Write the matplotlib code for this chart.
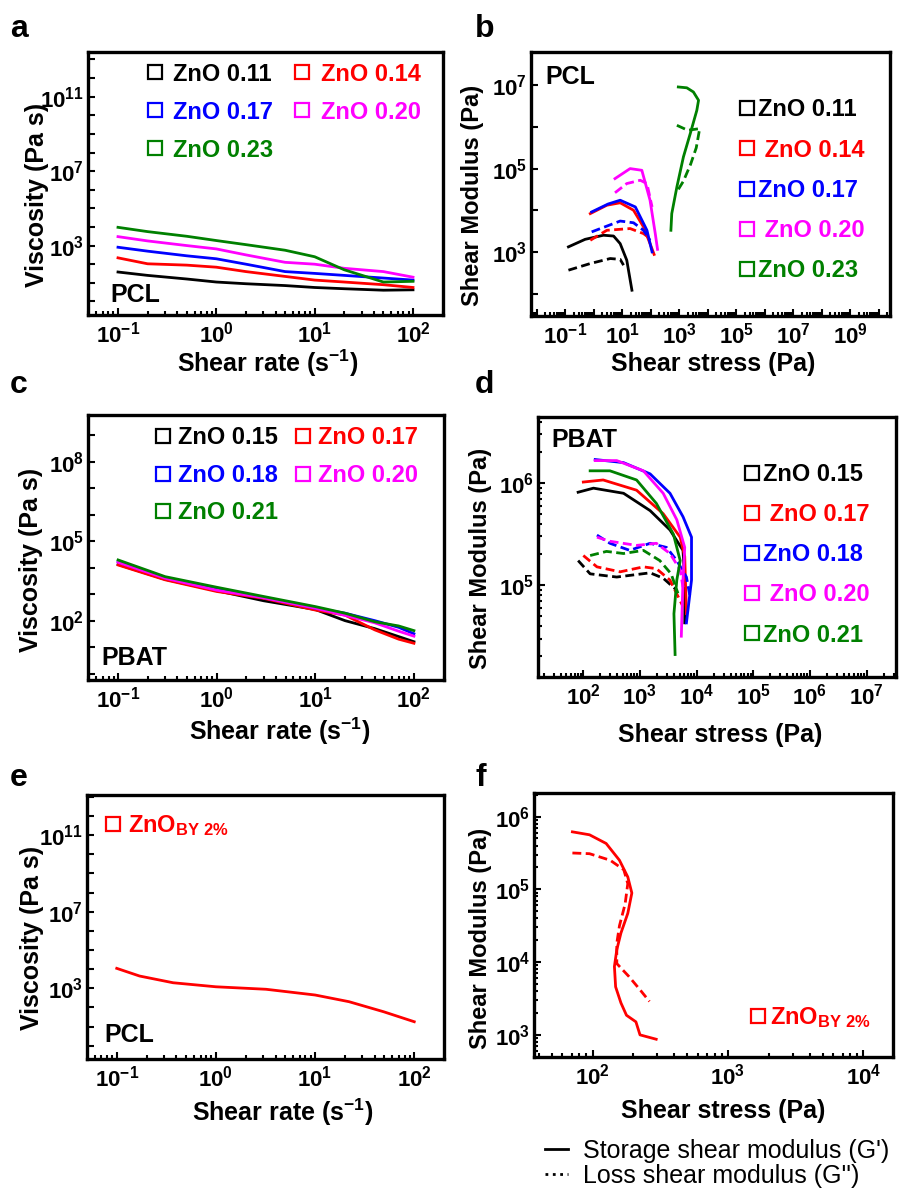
import numpy as np
import matplotlib
matplotlib.use('Agg')
import matplotlib.pyplot as plt
from matplotlib.lines import Line2D
from matplotlib.ticker import LogLocator, FuncFormatter, NullFormatter, NullLocator

plt.rcParams['font.family'] = ['Liberation Sans', 'DejaVu Sans']
plt.rcParams['font.weight'] = 'bold'
plt.rcParams['mathtext.fontset'] = 'custom'
plt.rcParams['mathtext.rm'] = 'Liberation Sans:bold'
plt.rcParams['mathtext.bf'] = 'Liberation Sans:bold'
plt.rcParams['mathtext.it'] = 'Liberation Sans:bold'
plt.rcParams['mathtext.default'] = 'rm'

COLORS = ['black', '#ff0000', '#0000ff', '#ff00ff', '#008000']

# ---------------- panel a: PCL viscosity ----------------
labels_a = ['ZnO 0.11', 'ZnO 0.14', 'ZnO 0.17', 'ZnO 0.20', 'ZnO 0.23']
rate_a = [0.1, 0.2, 0.5, 1, 2, 5, 10, 20, 50, 100]
visc_a_011 = [38, 25, 16, 11, 8.9, 7.1, 5.6, 4.8, 4.0, 4.2]
visc_a_014 = [219, 105, 89, 69, 40, 22, 14, 11, 7.9, 5.6]
visc_a_017 = [813, 501, 282, 195, 100, 40, 32, 25, 18, 14]
visc_a_020 = [3020, 1778, 1000, 661, 316, 126, 100, 60, 40, 20]
visc_a_023 = [9550, 5623, 3162, 1862, 1122, 562, 251, 50, 11, 12]

# ---------------- panel b: PCL modulus vs stress ----------------
labels_b = ['ZnO 0.11', ' ZnO 0.14', 'ZnO 0.17', ' ZnO 0.20', 'ZnO 0.23']
b_011_Gp_x = [0.13, 0.5, 2.2, 5, 8.5, 14.5, 22]
b_011_Gp_y = [1320, 2000, 2510, 2400, 1580, 630, 120]
b_011_Gpp_x = [0.13, 0.76, 3.8, 8.5, 11.2]
b_011_Gpp_y = [363, 525, 692, 661, 479]
b_014_Gp_x = [0.76, 2.9, 8.5, 25, 56, 95, 132]
b_014_Gp_y = [8300, 13200, 15100, 10000, 3980, 1580, 870]
b_014_Gpp_x = [0.76, 2.9, 19, 56, 95]
b_014_Gpp_y = [1900, 3300, 3630, 2750, 2090]
b_017_Gp_x = [0.85, 3.2, 8.5, 29, 74, 112]
b_017_Gp_y = [9100, 14100, 17400, 12000, 3300, 1000]
b_017_Gpp_x = [0.85, 8.5, 25, 56, 95]
b_017_Gpp_y = [3020, 5500, 5000, 3300, 1900]
b_020_Gp_x = [5.6, 19, 49, 95, 145, 174]
b_020_Gp_y = [57500, 100000, 91000, 17400, 2750, 1150]
b_020_Gpp_x = [5.6, 14.5, 43, 74, 112]
b_020_Gpp_y = [26300, 43700, 52500, 43700, 12000]
b_023_Gp_x = [513, 550, 832, 1410, 2450, 4170, 4790, 3160, 1860, 933]
b_023_Gp_y = [3300, 8300, 36300, 190500, 692000, 2510000, 4370000, 6920000, 8710000, 9120000]
b_023_Gpp_x = [832, 2000, 5250, 3980, 2510, 1410, 933]
b_023_Gpp_y = [1096000, 832000, 912000, 316000, 126000, 50000, 31600]

# ---------------- panel c: PBAT viscosity ----------------
labels_c = ['ZnO 0.15', 'ZnO 0.17', 'ZnO 0.18', 'ZnO 0.20', 'ZnO 0.21']
rate_c = [0.1, 0.3, 1, 3, 10, 20, 40, 70, 100]
visc_c_015 = [13200, 3630, 1350, 562, 263, 100, 50, 25, 16]
visc_c_017 = [12600, 3470, 1260, 692, 251, 162, 45, 20, 14]
visc_c_018 = [17000, 4170, 1510, 741, 295, 191, 100, 56, 32]
visc_c_020 = [15800, 3980, 1410, 724, 295, 158, 83, 40, 26]
visc_c_021 = [19500, 4570, 1820, 813, 339, 191, 91, 63, 42]

# ---------------- panel d: PBAT modulus vs stress ----------------
labels_d = ['ZnO 0.15', ' ZnO 0.17', 'ZnO 0.18', ' ZnO 0.20', 'ZnO 0.21']
d_015_Gp_x = [81, 151, 513, 1510, 3390, 5750, 6170, 6170]
d_015_Gp_y = [813000, 891000, 794000, 537000, 347000, 219000, 112000, 42700]
d_017_Gp_x = [100, 224, 871, 2570, 5130, 6170, 6610]
d_017_Gp_y = [1023000, 1072000, 851000, 501000, 295000, 191000, 52500]
d_018_Gp_x = [162, 513, 1510, 3390, 5750, 8130, 8130, 6610]
d_018_Gp_y = [1700000, 1585000, 1230000, 794000, 468000, 295000, 112000, 42700]
d_020_Gp_x = [162, 389, 1150, 2570, 4470, 6170, 5750, 5370]
d_020_Gp_y = [1660000, 1660000, 1318000, 794000, 437000, 234000, 112000, 31600]
d_021_Gp_x = [132, 295, 871, 1950, 3890, 5130, 4470, 3980, 4170]
d_021_Gp_y = [1318000, 1318000, 1072000, 631000, 316000, 174000, 112000, 52500, 20900]
d_015_Gpp_x = [81, 132, 389, 1510, 2570, 4470]
d_015_Gpp_y = [174000, 129000, 120000, 132000, 117000, 89000]
d_017_Gpp_x = [100, 174, 447, 1150, 1950, 3390, 5750]
d_017_Gpp_y = [195000, 151000, 135000, 151000, 145000, 112000, 61700]
d_018_Gpp_x = [174, 295, 661, 1510, 2950, 4470, 6610, 7590]
d_018_Gpp_y = [309000, 257000, 219000, 257000, 234000, 174000, 120000, 79400]
d_020_Gpp_x = [174, 295, 871, 1950, 3390, 5130, 5750]
d_020_Gpp_y = [295000, 269000, 245000, 257000, 204000, 141000, 95500]
d_021_Gpp_x = [132, 257, 513, 1150, 2240, 3550, 4680]
d_021_Gpp_y = [195000, 214000, 204000, 219000, 174000, 129000, 83200]

# ---------------- panel e: PCL ZnO BY 2% viscosity ----------------
rate_e = [0.1, 0.17, 0.37, 1.0, 3.2, 10, 22, 49, 100]
visc_e = [11000, 4370, 1950, 1200, 891, 447, 200, 60, 18]

# ---------------- panel f: ZnO BY 2% modulus ----------------
f_Gp_x = [71, 95, 126, 158, 182, 195, 182, 162, 151, 145, 148, 162, 178, 209, 224, 295]
f_Gp_y = [617000, 562000, 427000, 251000, 148000, 89100, 46800, 25100, 14800, 8710,
          4570, 2750, 1860, 1510, 1000, 871]
f_Gpp_x = [71, 95, 135, 170, 182, 174, 158, 151, 151, 186, 224, 263]
f_Gpp_y = [316000, 309000, 251000, 186000, 120000, 63100, 31600, 18200, 9550, 6310, 4170, 2880]

label_by = r'ZnO$_{\mathrm{BY\ 2\%}}$'
legend_bottom = ["Storage shear modulus (G')", "Loss shear modulus (G'')"]

# ---------------- figure ----------------
W, H = 900, 1191
fig = plt.figure(figsize=(9, 11.91), dpi=100)

def px_axes(left, top, right, bottom):
    return fig.add_axes([left / W, 1 - bottom / H, (right - left) / W, (bottom - top) / H])

LW = 2.0
DASH = (0, (3.2, 1.6))
TICK_FS = 16
LEG_FS = 17

def fmt(show):
    def f(v, p):
        e = int(round(np.log10(v)))
        return r'$10^{%d}$' % e if e in show else ''
    return FuncFormatter(f)

def style(ax, xlim, ylim, xshow, yshow, xminor=True, yminor=False):
    ax.set_xscale('log')
    ax.set_yscale('log')
    ax.set_xlim(*xlim)
    ax.set_ylim(*ylim)
    ax.xaxis.set_major_locator(LogLocator(base=10, subs=(1.0,), numticks=40))
    ax.yaxis.set_major_locator(LogLocator(base=10, subs=(1.0,), numticks=40))
    ax.xaxis.set_major_formatter(fmt(xshow))
    ax.yaxis.set_major_formatter(fmt(yshow))
    if xminor:
        ax.xaxis.set_minor_locator(LogLocator(base=10, subs=np.arange(2, 10), numticks=40))
    else:
        ax.xaxis.set_minor_locator(NullLocator())
    if yminor:
        ax.yaxis.set_minor_locator(LogLocator(base=10, subs=np.arange(2, 10), numticks=40))
    else:
        ax.yaxis.set_minor_locator(NullLocator())
    ax.xaxis.set_minor_formatter(NullFormatter())
    ax.yaxis.set_minor_formatter(NullFormatter())
    ax.tick_params(which='both', direction='in', top=False, right=False, width=1.5)
    ax.tick_params(which='major', length=5, labelsize=TICK_FS)
    ax.tick_params(which='minor', length=3)
    ax.tick_params(axis='x', pad=5)
    ax.tick_params(axis='y', pad=3)
    for s in ax.spines.values():
        s.set_linewidth(2.4)

def square_handles(colors):
    return [Line2D([], [], ls='none', marker='s', ms=9.5, mfc='none', mec=c, mew=1.6, color=c)
            for c in colors]

def add_legend(ax, labels, colors, anchor, ncol=1, hl=0.7, htp=0.4, ls=0.42, cs=0.9, order=None):
    hs = square_handles(colors)
    if order is not None:
        hs = [hs[i] for i in order]
        labels = [labels[i] for i in order]
        colors = [colors[i] for i in order]
    leg = ax.legend(hs, labels, loc='upper left', bbox_to_anchor=anchor, ncol=ncol,
                    frameon=False, handlelength=hl, handletextpad=htp,
                    labelspacing=ls, columnspacing=cs, borderpad=0, borderaxespad=0,
                    prop={'weight': 'bold', 'size': LEG_FS})
    for t, c in zip(leg.get_texts(), colors):
        t.set_color(c)
    return leg

def labels(ax, xl, yl, xpos, ypos, yfs=18):
    ax.set_xlabel(xl, fontsize=18, fontweight='bold')
    ax.set_ylabel(yl, fontsize=yfs, fontweight='bold')
    ax.xaxis.set_label_coords(*xpos)
    ax.yaxis.set_label_coords(*ypos)
    ax.xaxis.label.set_va('center')
    ax.yaxis.label.set_va('center')

rate_label = r'Shear rate (s$^{-1}$)'

# ---- a ----
axa = px_axes(88, 52, 443, 315)
for vals, c in zip([visc_a_011, visc_a_014, visc_a_017, visc_a_020, visc_a_023], COLORS):
    axa.plot(rate_a, vals, color=c, lw=LW)
style(axa, (10**-1.305, 10**2.305), (10**-0.73, 10**13.4), {-1, 0, 1, 2}, {3, 7, 11})
labels(axa, rate_label, 'Viscosity (Pa s)', (0.507, -0.185), (-0.144, 0.456))
add_legend(axa, labels_a, COLORS, (0.165, 0.96), ncol=2, hl=0.7, htp=0.42, ls=0.64, cs=0.89,
           order=[0, 2, 4, 1, 3])
axa.text(0.062, 0.076, 'PCL', transform=axa.transAxes, fontsize=18, fontweight='bold', va='center')

# ---- b ----
axb = px_axes(531, 52, 890, 316)
b_series = [(b_011_Gp_x, b_011_Gp_y, b_011_Gpp_x, b_011_Gpp_y),
            (b_014_Gp_x, b_014_Gp_y, b_014_Gpp_x, b_014_Gpp_y),
            (b_017_Gp_x, b_017_Gp_y, b_017_Gpp_x, b_017_Gpp_y),
            (b_020_Gp_x, b_020_Gp_y, b_020_Gpp_x, b_020_Gpp_y),
            (b_023_Gp_x, b_023_Gp_y, b_023_Gpp_x, b_023_Gpp_y)]
for (gx, gy, lx, ly), c in zip(b_series, COLORS):
    axb.plot(gx, gy, color=c, lw=LW)
    axb.plot(lx, ly, color=c, lw=LW, ls=DASH)
style(axb, (10**-2.2, 10**10.4), (10**1.46, 10**7.8), {-1, 1, 3, 5, 7, 9}, {3, 5, 7})
labels(axb, 'Shear stress (Pa)', 'Shear Modulus (Pa)', (0.507, -0.18), (-0.163, 0.458), yfs=17)
add_legend(axb, labels_b, COLORS, (0.584, 0.824), hl=0.5, htp=0.24, ls=0.73)
axb.text(0.039, 0.906, 'PCL', transform=axb.transAxes, fontsize=18, fontweight='bold', va='center')

# ---- c ----
axc = px_axes(88, 415, 444, 680)
for vals, c in zip([visc_c_015, visc_c_017, visc_c_018, visc_c_020, visc_c_021], COLORS):
    axc.plot(rate_c, vals, color=c, lw=LW)
style(axc, (10**-1.305, 10**2.305), (10**-0.24, 10**9.76), {-1, 0, 1, 2}, {2, 5, 8})
labels(axc, rate_label, 'Viscosity (Pa s)', (0.539, -0.192), (-0.16, 0.453))
add_legend(axc, labels_c, COLORS, (0.187, 0.958), ncol=2, hl=0.7, htp=0.29, ls=0.62, cs=0.72,
           order=[0, 2, 4, 1, 3])
axc.text(0.038, 0.083, 'PBAT', transform=axc.transAxes, fontsize=18, fontweight='bold', va='center')

# ---- d ----
axd = px_axes(538, 416.7, 896, 677)
d_series = [(d_015_Gp_x, d_015_Gp_y, d_015_Gpp_x, d_015_Gpp_y),
            (d_017_Gp_x, d_017_Gp_y, d_017_Gpp_x, d_017_Gpp_y),
            (d_018_Gp_x, d_018_Gp_y, d_018_Gpp_x, d_018_Gpp_y),
            (d_020_Gp_x, d_020_Gp_y, d_020_Gpp_x, d_020_Gpp_y),
            (d_021_Gp_x, d_021_Gp_y, d_021_Gpp_x, d_021_Gpp_y)]
for (gx, gy, lx, ly), c in zip(d_series, COLORS):
    axd.plot(gx, gy, color=c, lw=LW)
    axd.plot(lx, ly, color=c, lw=LW, ls=DASH)
style(axd, (10**1.2, 10**7.52), (10**4.1, 10**6.65), {2, 3, 4, 5, 6, 7}, {5, 6}, yminor=True)
labels(axd, 'Shear stress (Pa)', 'Shear Modulus (Pa)', (0.508, -0.223), (-0.162, 0.457), yfs=17)
add_legend(axd, labels_d, COLORS, (0.580, 0.823), hl=0.5, htp=0.24, ls=0.73)
axd.text(0.038, 0.91, 'PBAT', transform=axd.transAxes, fontsize=18, fontweight='bold', va='center')

# ---- e ----
axe = px_axes(87, 795, 444, 1059)
axe.plot(rate_e, visc_e, color='#ff0000', lw=LW)
style(axe, (10**-1.3, 10**2.3), (10**-0.69, 10**13.09), {-1, 0, 1, 2}, {3, 7, 11})
labels(axe, rate_label, 'Viscosity (Pa s)', (0.548, -0.203), (-0.155, 0.46))
add_legend(axe, [label_by], ['#ff0000'], (0.056, 0.93), hl=0.5, htp=0.39)
axe.text(0.05, 0.09, 'PCL', transform=axe.transAxes, fontsize=18, fontweight='bold', va='center')

# ---- f ----
axf = px_axes(534.3, 793.3, 893.3, 1056.7)
axf.plot(f_Gp_x, f_Gp_y, color='#ff0000', lw=LW)
axf.plot(f_Gpp_x, f_Gpp_y, color='#ff0000', lw=LW, ls=DASH)
style(axf, (10**1.57, 10**4.22), (10**2.7, 10**6.32), {2, 3, 4}, {3, 4, 5, 6}, yminor=True)
labels(axf, 'Shear stress (Pa)', 'Shear Modulus (Pa)', (0.526, -0.205), (-0.15, 0.45), yfs=17)
add_legend(axf, [label_by], ['#ff0000'], (0.6075, 0.195), hl=0.5, htp=0.24)

# ---- bottom legend ----
bh = [Line2D([], [], color='black', lw=2), Line2D([], [], color='black', lw=2, ls=':')]
fig.legend(bh, legend_bottom, loc='upper left', bbox_to_anchor=(545 / W, 1 - 1139 / H),
           frameon=False, prop={'weight': 'normal', 'size': 18}, handlelength=0.9,
           handletextpad=0.62, labelspacing=0.04, borderpad=0, borderaxespad=0)

# ---- panel letters ----
for letter, x, y in [('a', 10, 37), ('b', 475, 37), ('c', 10, 393), ('d', 475, 393),
                     ('e', 10, 786), ('f', 475, 786)]:
    fig.text(x / W, 1 - y / H, letter, fontsize=23, fontweight='bold', va='baseline', ha='left')

fig.savefig('out.png', dpi=100)
